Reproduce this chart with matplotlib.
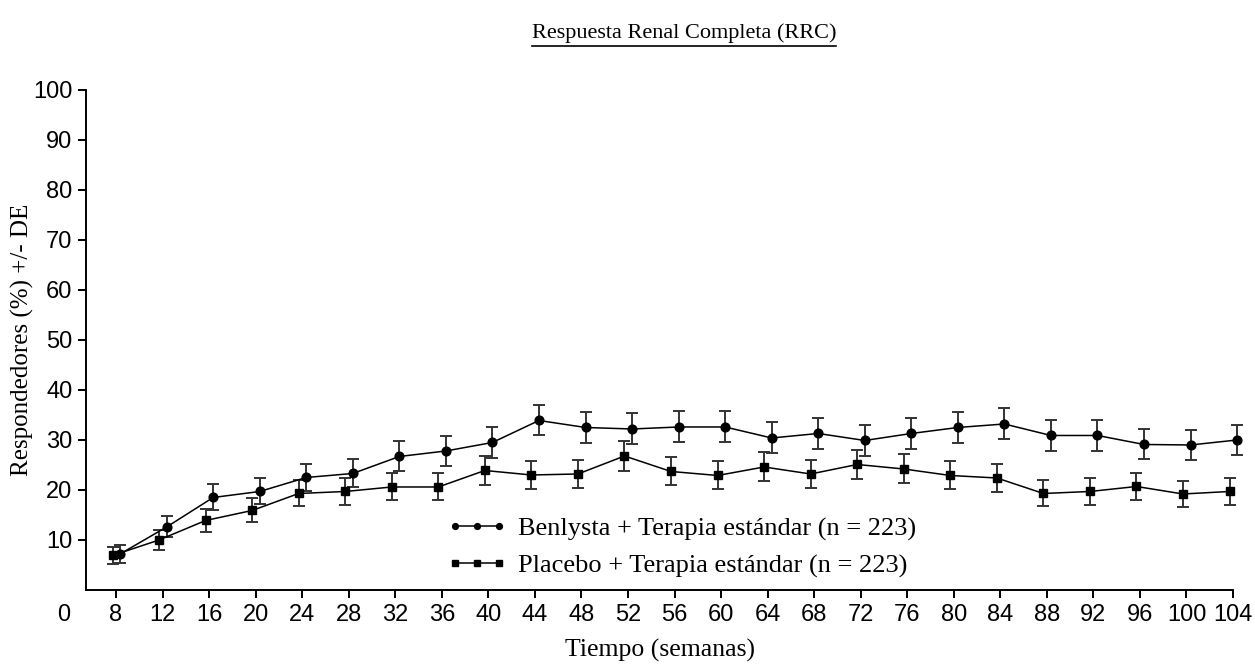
import matplotlib
matplotlib.use("Agg")
import matplotlib.pyplot as plt
from matplotlib.lines import Line2D
from matplotlib.legend_handler import HandlerLine2D
import numpy as np

# weeks and responder rates (%)
weeks = [8, 12, 16, 20, 24, 28, 32, 36, 40, 44, 48, 52, 56, 60, 64, 68, 72,
         76, 80, 84, 88, 92, 96, 100, 104]
benlysta = [7.2, 12.6, 18.5, 19.7, 22.5, 23.3, 26.7, 27.8, 29.5, 33.9, 32.5, 32.2,
            32.6, 32.6, 30.4, 31.3, 29.9, 31.3, 32.5, 33.2, 30.9, 30.9, 29.1, 29.0, 30.0]
benlysta_err = [1.8, 2.1, 2.6, 2.6, 2.7, 2.8, 3.0, 3.0, 3.1, 3.0, 3.1, 3.1,
                3.1, 3.1, 3.1, 3.1, 3.1, 3.1, 3.1, 3.1, 3.1, 3.1, 3.0, 3.0, 3.0]
placebo = [6.9, 10.0, 13.9, 15.9, 19.3, 19.7, 20.6, 20.6, 23.9, 23.0, 23.2, 26.8,
           23.7, 22.9, 24.6, 23.2, 25.1, 24.2, 22.9, 22.4, 19.3, 19.7, 20.7, 19.2, 19.7]
placebo_err = [1.7, 2.0, 2.3, 2.4, 2.6, 2.7, 2.7, 2.7, 2.9, 2.8, 2.8, 3.0,
               2.8, 2.8, 2.9, 2.8, 2.9, 2.9, 2.8, 2.8, 2.6, 2.7, 2.7, 2.6, 2.7]
yticks = [10, 20, 30, 40, 50, 60, 70, 80, 90, 100]

title = "Respuesta Renal Completa (RRC)"
labels = ["Benlysta + Terapia estándar (n = 223)",
          "Placebo + Terapia estándar (n = 223)"]

serif = ["Liberation Serif", "DejaVu Serif"]
sans = ["Liberation Sans", "DejaVu Sans"]

fig = plt.figure(figsize=(12.55, 6.65), dpi=100)
ax = fig.add_axes([0.0688, 0.1128, 0.9137, 0.7519])

x = np.array(weeks, dtype=float)
# small horizontal offset between the two groups, as in the original
ax.errorbar(x + 0.35, benlysta, yerr=benlysta_err, fmt="-o", color="black",
            ms=6.3, lw=1.1, ecolor="#333333", elinewidth=1.4, capsize=4.5,
            capthick=1.4, clip_on=False, zorder=3)
ax.errorbar(x - 0.3, placebo, yerr=placebo_err, fmt="-s", color="black",
            ms=5.8, lw=1.1, ecolor="#333333", elinewidth=1.4, capsize=4.5,
            capthick=1.4, clip_on=False, zorder=3)

ax.set_xlim(5.45, 104)
ax.set_ylim(0, 100)
ax.set_xticks(weeks)
ax.set_yticks(yticks)
for s in ["top", "right"]:
    ax.spines[s].set_visible(False)
for s in ["left", "bottom"]:
    ax.spines[s].set_linewidth(1.4)
ax.tick_params(length=6, width=1.4, labelsize=17, pad=4)
for lab in ax.get_xticklabels() + ax.get_yticklabels():
    lab.set_family(sans)
ax.text(-0.0194, -0.05, "0", transform=ax.transAxes, ha="center", va="center",
        fontsize=17, family=sans)

ax.set_xlabel("Tiempo (semanas)", fontsize=18.5, family=serif)
ax.set_ylabel("Respondedores (%) +/- DE", fontsize=18, family=serif)
ax.xaxis.set_label_coords(0.5, -0.097)
ax.yaxis.set_label_coords(-0.046, 0.5)

handles = [Line2D([], [], color="black", marker="o", ms=4.2, lw=1.1),
           Line2D([], [], color="black", marker="s", ms=4.2, lw=1.1)]
ax.legend(handles, labels, loc="upper left", bbox_to_anchor=(0.3215, 0.146),
          frameon=False, numpoints=3, handlelength=1.65, handletextpad=0.75,
          labelspacing=0.5, borderpad=0, borderaxespad=0,
          handler_map={Line2D: HandlerLine2D(marker_pad=0)},
          prop={"family": serif, "size": 19})

t = fig.text(0.545, 0.95, title, ha="center", va="center", fontsize=16,
             family=serif)
fig.canvas.draw()
bb = t.get_window_extent().transformed(fig.transFigure.inverted())
fig.add_artist(Line2D([bb.x0, bb.x1], [bb.y0 - 0.004, bb.y0 - 0.004],
                      color="black", lw=1.2, transform=fig.transFigure))

fig.savefig("out.png", dpi=100)
